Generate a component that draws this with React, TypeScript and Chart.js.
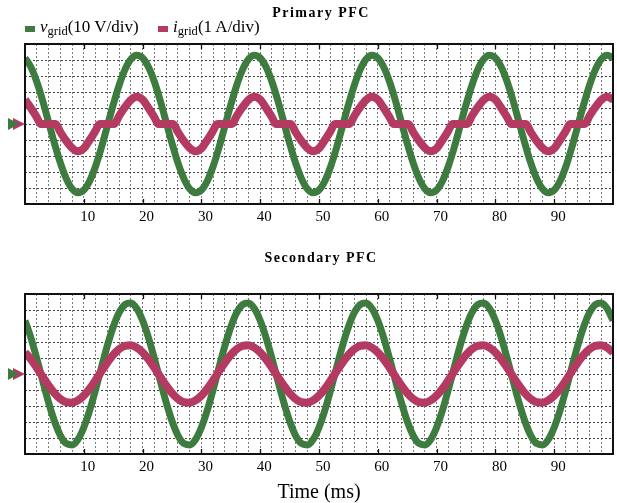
import React, { useEffect, useRef } from "react";
import { Chart, registerables } from "chart.js";

Chart.register(...registerables);

const GREEN = "#3d7b3e";
const RED = "#b53a61";
const FONT = "'Liberation Serif', 'Times New Roman', serif";

const xTickLabels = [10, 20, 30, 40, 50, 60, 70, 80, 90];

// ---- Primary PFC ----
const topVoltageTime = [
  0, 1, 2, 3, 4, 5, 6, 7, 8, 9, 10, 11, 12, 13, 14, 15, 16, 17, 18, 19,
  20, 21, 22, 23, 24, 25, 26, 27, 28, 29, 30, 31, 32, 33, 34, 35, 36, 37, 38, 39,
  40, 41, 42, 43, 44, 45, 46, 47, 48, 49, 50, 51, 52, 53, 54, 55, 56, 57, 58, 59,
  60, 61, 62, 63, 64, 65, 66, 67, 68, 69, 70, 71, 72, 73, 74, 75, 76, 77, 78, 79,
  80, 81, 82, 83, 84, 85, 86, 87, 88, 89, 90, 91, 92, 93, 94, 95, 96, 97, 98, 99, 100,
];
const topVoltage = [
  41.3, 35.6, 26.4, 14.6, 1.3, -12.0, -24.2, -34.0, -40.5, -43.0, -41.3, -35.6, -26.4, -14.6, -1.3, 12.0, 24.2, 34.0, 40.5, 43.0,
  41.3, 35.6, 26.4, 14.6, 1.3, -12.0, -24.2, -34.0, -40.5, -43.0, -41.3, -35.6, -26.4, -14.6, -1.3, 12.0, 24.2, 34.0, 40.5, 43.0,
  41.3, 35.6, 26.4, 14.6, 1.3, -12.0, -24.2, -34.0, -40.5, -43.0, -41.3, -35.6, -26.4, -14.6, -1.3, 12.0, 24.2, 34.0, 40.5, 43.0,
  41.3, 35.6, 26.4, 14.6, 1.3, -12.0, -24.2, -34.0, -40.5, -43.0, -41.3, -35.6, -26.4, -14.6, -1.3, 12.0, 24.2, 34.0, 40.5, 43.0,
  41.3, 35.6, 26.4, 14.6, 1.3, -12.0, -24.2, -34.0, -40.5, -43.0, -41.3, -35.6, -26.4, -14.6, -1.3, 12.0, 24.2, 34.0, 40.5, 43.0,
  41.3,
];
const topCurrentTime = [
  0, 1, 2, 2.7, 5.2, 6, 7, 8, 9, 10, 11, 12, 12.7, 15.2, 16, 17, 18, 19,
  20, 21, 22, 22.7, 25.2, 26, 27, 28, 29, 30, 31, 32, 32.7, 35.2, 36, 37, 38, 39,
  40, 41, 42, 42.7, 45.2, 46, 47, 48, 49, 50, 51, 52, 52.7, 55.2, 56, 57, 58, 59,
  60, 61, 62, 62.7, 65.2, 66, 67, 68, 69, 70, 71, 72, 72.7, 75.2, 76, 77, 78, 79,
  80, 81, 82, 82.7, 85.2, 86, 87, 88, 89, 90, 91, 92, 92.7, 95.2, 96, 97, 98, 99,
  100,
];
const topCurrent = [
  1.52, 1.0, 0.42, 0, 0, -0.5, -1.05, -1.5, -1.7, -1.52, -1.0, -0.42, 0, 0, 0.5, 1.05, 1.5, 1.7,
  1.52, 1.0, 0.42, 0, 0, -0.5, -1.05, -1.5, -1.7, -1.52, -1.0, -0.42, 0, 0, 0.5, 1.05, 1.5, 1.7,
  1.52, 1.0, 0.42, 0, 0, -0.5, -1.05, -1.5, -1.7, -1.52, -1.0, -0.42, 0, 0, 0.5, 1.05, 1.5, 1.7,
  1.52, 1.0, 0.42, 0, 0, -0.5, -1.05, -1.5, -1.7, -1.52, -1.0, -0.42, 0, 0, 0.5, 1.05, 1.5, 1.7,
  1.52, 1.0, 0.42, 0, 0, -0.5, -1.05, -1.5, -1.7, -1.52, -1.0, -0.42, 0, 0, 0.5, 1.05, 1.5, 1.7,
  1.52,
];

// ---- Secondary PFC ----
const bottomTime = [
  0, 1, 2, 3, 4, 5, 6, 7, 8, 9, 10, 11, 12, 13, 14, 15, 16, 17, 18, 19,
  20, 21, 22, 23, 24, 25, 26, 27, 28, 29, 30, 31, 32, 33, 34, 35, 36, 37, 38, 39,
  40, 41, 42, 43, 44, 45, 46, 47, 48, 49, 50, 51, 52, 53, 54, 55, 56, 57, 58, 59,
  60, 61, 62, 63, 64, 65, 66, 67, 68, 69, 70, 71, 72, 73, 74, 75, 76, 77, 78, 79,
  80, 81, 82, 83, 84, 85, 86, 87, 88, 89, 90, 91, 92, 93, 94, 95, 96, 97, 98, 99, 100,
];
const bottomVoltage = [
  33.4, 22.7, 9.7, -4.2, -17.7, -29.4, -38.3, -43.4, -44.3, -40.9, -33.4, -22.7, -9.7, 4.2, 17.7, 29.4, 38.3, 43.4, 44.3, 40.9,
  33.4, 22.7, 9.7, -4.2, -17.7, -29.4, -38.3, -43.4, -44.3, -40.9, -33.4, -22.7, -9.7, 4.2, 17.7, 29.4, 38.3, 43.4, 44.3, 40.9,
  33.4, 22.7, 9.7, -4.2, -17.7, -29.4, -38.3, -43.4, -44.3, -40.9, -33.4, -22.7, -9.7, 4.2, 17.7, 29.4, 38.3, 43.4, 44.3, 40.9,
  33.4, 22.7, 9.7, -4.2, -17.7, -29.4, -38.3, -43.4, -44.3, -40.9, -33.4, -22.7, -9.7, 4.2, 17.7, 29.4, 38.3, 43.4, 44.3, 40.9,
  33.4, 22.7, 9.7, -4.2, -17.7, -29.4, -38.3, -43.4, -44.3, -40.9, -33.4, -22.7, -9.7, 4.2, 17.7, 29.4, 38.3, 43.4, 44.3, 40.9,
  33.4,
];
const bottomCurrent = [
  1.35, 0.92, 0.39, -0.17, -0.71, -1.19, -1.55, -1.76, -1.79, -1.65, -1.35, -0.92, -0.39, 0.17, 0.71, 1.19, 1.55, 1.76, 1.79, 1.65,
  1.35, 0.92, 0.39, -0.17, -0.71, -1.19, -1.55, -1.76, -1.79, -1.65, -1.35, -0.92, -0.39, 0.17, 0.71, 1.19, 1.55, 1.76, 1.79, 1.65,
  1.35, 0.92, 0.39, -0.17, -0.71, -1.19, -1.55, -1.76, -1.79, -1.65, -1.35, -0.92, -0.39, 0.17, 0.71, 1.19, 1.55, 1.76, 1.79, 1.65,
  1.35, 0.92, 0.39, -0.17, -0.71, -1.19, -1.55, -1.76, -1.79, -1.65, -1.35, -0.92, -0.39, 0.17, 0.71, 1.19, 1.55, 1.76, 1.79, 1.65,
  1.35, 0.92, 0.39, -0.17, -0.71, -1.19, -1.55, -1.76, -1.79, -1.65, -1.35, -0.92, -0.39, 0.17, 0.71, 1.19, 1.55, 1.76, 1.79, 1.65,
  1.35,
];

const framePlugin = {
  id: "scopeFrame",
  afterDatasetsDraw(chart: any) {
    const { ctx, chartArea: a, scales } = chart;
    ctx.save();
    ctx.strokeStyle = "#111";
    ctx.lineWidth = 1.3;
    for (const t of xTickLabels) {
      const x = Math.round(scales.x.getPixelForValue(t)) + 0.5;
      ctx.beginPath();
      ctx.moveTo(x, a.top);
      ctx.lineTo(x, a.top + 5);
      ctx.moveTo(x, a.bottom);
      ctx.lineTo(x, a.bottom - 5);
      ctx.stroke();
    }
    ctx.lineWidth = 2;
    ctx.strokeRect(a.left, a.top, a.right - a.left, a.bottom - a.top);
    const y0 = scales.yV.getPixelForValue(0);
    ctx.fillStyle = RED;
    ctx.beginPath();
    ctx.moveTo(a.left - 12, y0 - 6);
    ctx.lineTo(a.left - 12, y0 + 6);
    ctx.lineTo(a.left, y0);
    ctx.closePath();
    ctx.fill();
    ctx.fillStyle = GREEN;
    ctx.beginPath();
    ctx.moveTo(a.left - 17, y0 - 6);
    ctx.lineTo(a.left - 17, y0 + 6);
    ctx.lineTo(a.left - 6, y0);
    ctx.closePath();
    ctx.fill();
    ctx.restore();
  },
};

function makeConfig(
  vTime: number[],
  v: number[],
  iTime: number[],
  cur: number[],
  padTop: number,
  xHeight: number,
  axisTitle: string | null
): any {
  return {
    type: "line",
    data: {
      datasets: [
        {
          label: "v_grid (10 V/div)",
          data: vTime.map((t, k) => ({ x: t, y: v[k] })),
          yAxisID: "yV",
          borderColor: GREEN,
          backgroundColor: GREEN,
          borderWidth: 7,
          pointRadius: 0,
          cubicInterpolationMode: "monotone",
          order: 2,
          clip: 0,
        },
        {
          label: "i_grid (1 A/div)",
          data: iTime.map((t, k) => ({ x: t, y: cur[k] })),
          yAxisID: "yI",
          borderColor: RED,
          backgroundColor: RED,
          borderWidth: 8,
          pointRadius: 0,
          cubicInterpolationMode: "monotone",
          order: 1,
          clip: 0,
        },
      ],
    },
    options: {
      responsive: false,
      animation: false,
      events: [],
      layout: { padding: { top: padTop, left: 25, right: 2, bottom: 0 } },
      plugins: { legend: { display: false }, title: { display: false }, tooltip: { enabled: false } },
      scales: {
        x: {
          type: "linear",
          min: 0,
          max: 100,
          afterFit: (s: any) => {
            s.height = xHeight;
          },
          ticks: {
            stepSize: 2,
            autoSkip: false,
            maxRotation: 0,
            includeBounds: false,
            padding: 4,
            labelOffset: 4,
            color: "#000",
            font: { family: FONT, size: 15 },
            callback: (val: number) => {
              const r = Math.round(val);
              return Math.abs(val - r) < 1e-6 && xTickLabels.includes(r) ? String(r) : "";
            },
          },
          grid: { color: "#7a7a7a", lineWidth: 1, drawTicks: false },
          border: { display: false, dash: [2, 2] },
          title: axisTitle
            ? {
                display: true,
                text: axisTitle,
                color: "#000",
                font: { family: FONT, size: 20 },
                padding: { top: 0, bottom: -2 },
              }
            : { display: false },
        },
        yV: {
          type: "linear",
          position: "left",
          min: -50,
          max: 50,
          afterFit: (s: any) => {
            s.width = 0;
          },
          ticks: { display: false, stepSize: 10 },
          grid: { color: "#444", lineWidth: 1, drawTicks: false },
          border: { display: false, dash: [2, 2] },
        },
        yI: {
          type: "linear",
          position: "left",
          display: false,
          min: -5,
          max: 5,
        },
      },
    },
    plugins: [framePlugin],
  };
}

function LegendItem({ left, color, sym, unit }: { left: number; color: string; sym: string; unit: string }) {
  return (
    <div
      style={{
        position: "absolute",
        left,
        top: 19,
        fontFamily: FONT,
        fontSize: 17,
        lineHeight: "16px",
        whiteSpace: "nowrap",
        color: "#000",
      }}
    >
      <span style={{ display: "inline-block", width: 10, height: 6, background: color, marginRight: 5 }} />
      <i>{sym}</i>
      <span style={{ fontSize: 12.5, position: "relative", top: 3 }}>grid</span>
      {unit}
    </div>
  );
}

function Title({ top, text }: { top: number; text: string }) {
  return (
    <div
      style={{
        position: "absolute",
        left: 25,
        width: 592,
        top,
        textAlign: "center",
        fontFamily: FONT,
        fontWeight: "bold",
        fontSize: 14,
        lineHeight: "14px",
        letterSpacing: "1.5px",
        color: "#000",
      }}
    >
      {text}
    </div>
  );
}

export default function App() {
  const topRef = useRef<HTMLCanvasElement>(null);
  const bottomRef = useRef<HTMLCanvasElement>(null);

  useEffect(() => {
    const c1 = new Chart(
      topRef.current as HTMLCanvasElement,
      makeConfig(topVoltageTime, topVoltage, topCurrentTime, topCurrent, 44, 36, null)
    );
    const c2 = new Chart(
      bottomRef.current as HTMLCanvasElement,
      makeConfig(bottomTime, bottomVoltage, bottomTime, bottomCurrent, 54, 49, "Time (ms)")
    );
    return () => {
      c1.destroy();
      c2.destroy();
    };
  }, []);

  return (
    <div style={{ position: "fixed", left: 0, top: 0, width: 617, height: 503, background: "#fff", overflow: "hidden" }}>
      <canvas ref={topRef} width={617} height={240} style={{ position: "absolute", left: 0, top: 0 }} />
      <canvas ref={bottomRef} width={617} height={263} style={{ position: "absolute", left: 0, top: 240 }} />
      <Title top={6} text="Primary PFC" />
      <Title top={251} text="Secondary PFC" />
      <LegendItem left={25} color={GREEN} sym="v" unit="(10 V/div)" />
      <LegendItem left={158} color={RED} sym="i" unit="(1 A/div)" />
    </div>
  );
}
